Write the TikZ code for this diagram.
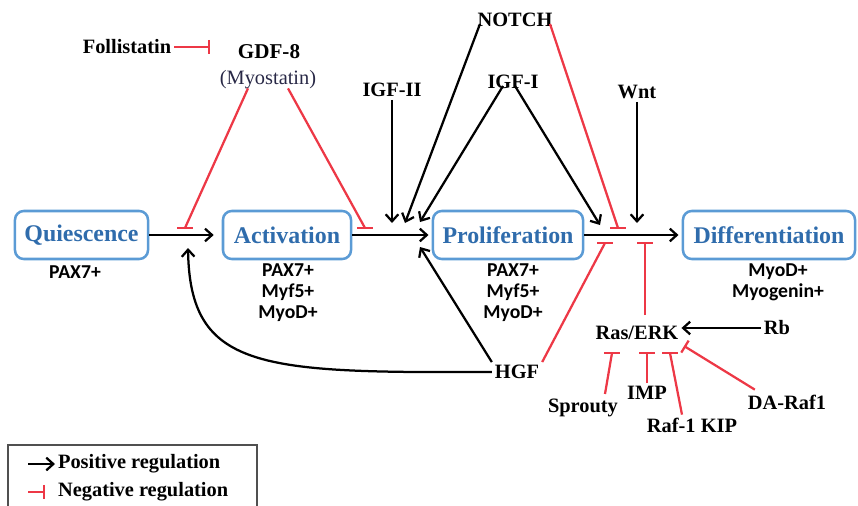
\documentclass[tikz,border=0pt]{standalone}
\usepackage{fontspec}
\setmainfont{Liberation Serif}
\newfontfamily\calibfont{Carlito}
\usetikzlibrary{arrows.meta,calc}
\definecolor{boxblue}{RGB}{91,155,213}
\definecolor{labblue}{RGB}{47,108,172}
\definecolor{inhred}{RGB}{237,56,70}
\tikzset{
  stage/.style={draw=boxblue, line width=1.8pt, rounded corners=0.22cm, minimum height=1.2cm,
    text=labblue, font=\bfseries\fontsize{17}{20}\selectfont},
  factor/.style={font=\bfseries\fontsize{14.5}{17}\selectfont, inner sep=2pt},
  marker/.style={font=\calibfont\bfseries\fontsize{14}{15}\selectfont, align=center},
  posreg/.style={line width=1.6pt, -{Straight Barb[length=5pt,width=9pt]}},
  negreg/.style={line width=1.6pt, draw=inhred},
}
\begin{document}
\begin{tikzpicture}[x=0.025cm,y=-0.025cm]
    \useasboundingbox (0,0) rectangle (858,506);

    % stages
    \node[stage, minimum width=3.325cm] (qui) at (81.5,235) {Quiescence};
    \node[stage, minimum width=3.2cm] (act) at (287,235) {Activation};
    \node[stage, minimum width=3.75cm] (pro) at (508,235) {Proliferation};
    \node[stage, minimum width=4.3cm] (dif) at (769,235) {Differentiation};

    % markers
    \node[marker] (mq) at (75,272) {PAX7+};
    \node[marker] (ma) at (288,293) {PAX7+\\Myf5+\\MyoD+};
    \node[marker] (mp) at (513,293) {PAX7+\\Myf5+\\MyoD+};
    \node[marker] (md) at (778,282) {MyoD+\\Myogenin+};

    % factors
    \node[factor] (fol) at (127,47) {Follistatin};
    \node[factor, font=\bfseries\fontsize{15}{17}\selectfont] (gdf) at (269,52) {GDF-8};
    \node[font=\fontsize{14.5}{17}\selectfont, text={rgb,255:red,40;green,40;blue,70}, inner sep=2pt] (myo) at (268,80) {(Myostatin)};
    \node[factor] (igf2) at (392,90) {IGF-II};
    \node[factor] (notch) at (515,20) {NOTCH};
    \node[factor] (igf1) at (513,82) {IGF-I};
    \node[factor] (wnt) at (637,92) {Wnt};
    \node[factor] (hgf) at (517,372) {HGF};
    \node[factor] (ras) at (637,333) {Ras/ERK};
    \node[factor] (rb) at (777,328) {Rb};
    \node[factor] (spr) at (583,408) {Sprouty};
    \node[factor] (imp) at (647,393) {IMP};
    \node[factor] (raf) at (692,425) {Raf-1 KIP};
    \node[factor] (dar) at (787,402) {DA-Raf1};

    % free ends near the main line
    \coordinate (tq) at (185,228);
    \coordinate (ta) at (365,228);
    \coordinate (tn) at (618,228);
    \coordinate (th) at (605,243);
    \coordinate (tr) at (645,243);
    \coordinate (ts) at (612,353);
    \coordinate (ti) at (647,353);
    \coordinate (tk) at (670,353);
    \coordinate (td) at (684,346);
    \coordinate (tf) at (210,47);
    \coordinate (hq) at (188,248);

    % main line
    \draw[posreg, shorten >=0.2cm] (qui.east) -- (act.west);
    \draw[posreg, shorten >=0.08cm] (act.east) -- (pro.west);
    \draw[posreg, shorten >=0.08cm] (pro.east) -- (dif.west);

    % positive regulation
    \draw[posreg] (igf2.south) -- (igf2.south |- 0,223);
    \draw[posreg] ($(notch.south)+(-35,-6)$) -- (405,223);
    \draw[posreg] ($(igf1.south)+(-10,-6)$) -- (420,222);
    \draw[posreg] ($(igf1.south)+(2,-6)$) -- (600,225);
    \draw[posreg] (wnt.south) -- (wnt.south |- 0,223);
    \draw[posreg] (hgf.north west) -- (420,247);
    \draw[posreg] (hgf.west) .. controls (260,373) and (190,370) .. (hq);
    \draw[posreg] (rb.west) -- (ras.east |- rb.west);

    % negative regulation
    \draw[negreg, -{Bar[width=10pt]}] (fol.east) -- (tf);
    \draw[negreg] ($(myo.south)+(-20,-4)$) -- (tq);
    \draw[negreg] ($(myo.south)+(20,-4)$) -- (ta);
    \draw[negreg] ($(notch.south)+(35,-6)$) -- (tn);
    \draw[negreg] (hgf.north east) -- (th);
    \draw[negreg] ($(ras.north)+(8,-8)$) -- (tr);
    \draw[negreg] ($(spr.north)+(22,-2)$) -- (ts);
    \draw[negreg] (imp.north) -- (ti);
    \draw[negreg] ($(raf.north)+(-10,0)$) -- (tk);
    \draw[negreg, -{Bar[width=10pt]}] ($(dar.north west)+(10,-2)$) -- (td);
    \foreach \t in {tq,ta,tn,th,tr,ts,ti,tk}
        \draw[negreg] (\t) ++(-8,0) -- ++(16,0);

    % legend
    \draw[draw={rgb,255:red,80;green,80;blue,80}, line width=0.8pt] (8,445) rectangle (257,520);
    \node[factor, anchor=west] (lpos) at (55,464) {Positive regulation};
    \node[factor, anchor=west] (lneg) at (55,492) {Negative regulation};
    \draw[posreg] ($(lpos.west)+(-27,0)$) -- (lpos.west);
    \draw[negreg, -{Bar[width=10pt]}] ($(lneg.west)+(-27,0)$) -- ($(lneg.west)+(-10,0)$);
\end{tikzpicture}
\end{document}
